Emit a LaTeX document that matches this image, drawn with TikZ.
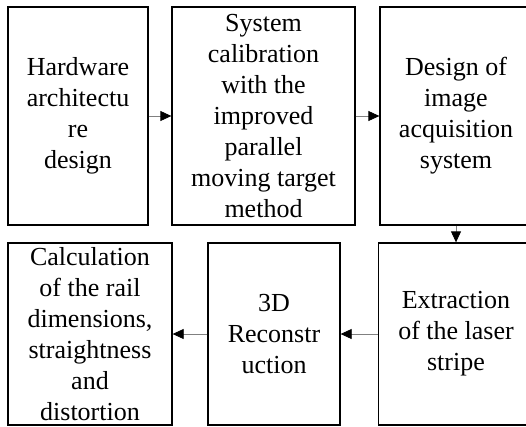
\documentclass[tikz,border=0pt]{standalone}
\usepackage{fontspec}
\setmainfont{Liberation Serif}
\usetikzlibrary{arrows.meta}
\begin{document}
\begin{tikzpicture}[x=1pt,y=1pt,
  box/.style={draw=black, line width=1.3pt, inner sep=0pt, align=center,
    font=\fontsize{26}{31}\selectfont},
  arr/.style={draw=gray, line width=0.8pt, -{Triangle[length=11pt,width=10pt,color=black]}}]
\useasboundingbox (0,0) rectangle (526,-426);
\clip (0,0) rectangle (526,-426);
\node[box, minimum width=140pt, minimum height=218pt] (b1) at (78,-116) {Hardware\\architectu\\re\\design};
\node[box, minimum width=183pt, minimum height=218pt] (b2) at (263.5,-116) {System\\calibration\\with the\\improved\\parallel\\moving target\\method};
\node[box, minimum width=152pt, minimum height=218pt] (b3) at (456,-116) {Design of\\image\\acquisition\\system};
\node[box, minimum width=164pt, minimum height=182pt] (b4) at (90,-334) {Calculation\\of the rail\\dimensions,\\straightness\\and\\distortion};
\node[box, minimum width=132pt, minimum height=182pt] (b5) at (274,-334) {3D\\Reconstr\\uction};
\node[box, minimum width=155pt, minimum height=182pt] (b6) at (456,-334) {Extraction\\of the laser\\stripe};
\draw[arr] (b1) -- (b2);
\draw[arr] (b2) -- (b3);
\draw[arr] (b3.south) -- (b3.south |- b6.north);
\draw[arr] (b6) -- (b5);
\draw[arr] (b5) -- (b4);
\end{tikzpicture}
\end{document}
